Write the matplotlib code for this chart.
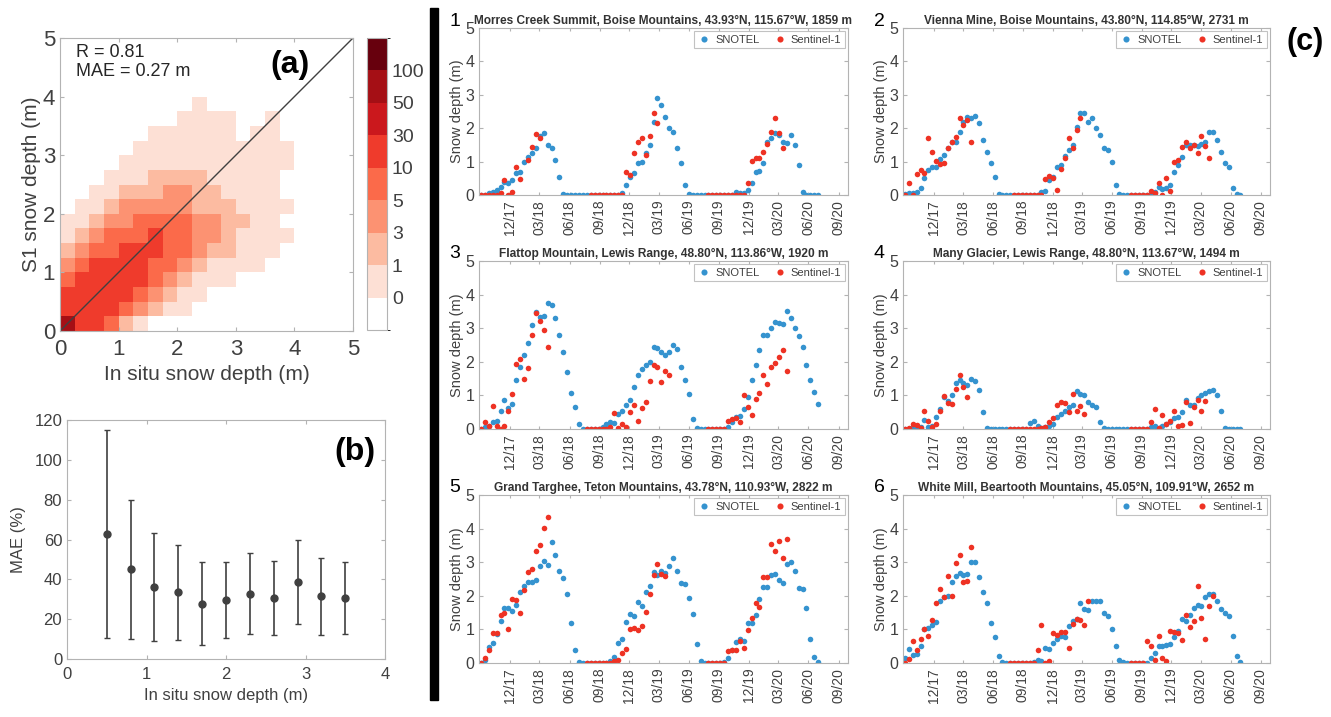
#!/usr/bin/env python3
# recria a figura: (a) densidade S1 x in situ, (b) MAE por classe, (c) series SNOTEL x Sentinel-1
import numpy as np
import pandas as pd
import matplotlib
matplotlib.use("Agg")
import matplotlib.pyplot as plt
from matplotlib.colors import ListedColormap, BoundaryNorm
from matplotlib.patches import Rectangle

plt.rcParams["font.family"] = ["Liberation Sans", "DejaVu Sans"]

N = None

# ---------------- (a) histograma 2d, classes de cor por celula de 0.25 m (linha de baixo primeiro)
dens_rows = [
    "75542100000000000000",
    "55554321100000000000",
    "55555432110000000000",
    "45555543211100000000",
    "34555544321111000000",
    "23445554432211100000",
    "12344454433211110000",
    "11233444433221100000",
    "01123333322211110000",
    "00112223322111100000",
    "00011122221111100000",
    "00001111111111110000",
    "00000111111111110000",
    "00000011111101100000",
    "00000000111100100000",
    "00000000010000000000",
    "00000000000000000000",
    "00000000000000000000",
    "00000000000000000000",
    "00000000000000000000",
]
class_counts = [np.nan, 0.5, 2, 4, 7, 20, 40, 75, 150]
cbar_bounds = [-1, 0, 1, 3, 5, 10, 30, 50, 100, 200]
cbar_ticks = [0, 1, 3, 5, 10, 30, 50, 100]
reds = ["#ffffff", "#fde0d5", "#fcbba1", "#fc9272", "#fb6a4a",
        "#ef3b2c", "#cb181d", "#a50f15", "#67000d"]
r_text = "R = 0.81"
mae_text = "MAE = 0.27 m"

# ---------------- (b) MAE (%) por faixa de profundidade
b_depth = [0.5, 0.8, 1.1, 1.4, 1.7, 2.0, 2.3, 2.6, 2.9, 3.2, 3.5]
b_mae = [62.7, 45.0, 36.3, 33.4, 27.8, 29.6, 32.8, 30.8, 38.8, 31.4, 30.8]
b_upper = [115.1, 79.9, 63.5, 57.0, 48.5, 48.8, 53.0, 49.3, 59.9, 50.7, 48.7]
b_lower = [10.5, 10.2, 8.9, 9.5, 6.9, 10.4, 12.4, 12.2, 17.7, 12.0, 12.7]

# ---------------- (c) series temporais, passo de 12 dias a partir de 2017-09-03
dates = pd.date_range("2017-09-03", periods=87, freq="12D")
titles = [
    "Morres Creek Summit, Boise Mountains, 43.93°N, 115.67°W, 1859 m",
    "Vienna Mine, Boise Mountains, 43.80°N, 114.85°W, 2731 m",
    "Flattop Mountain, Lewis Range, 48.80°N, 113.86°W, 1920 m",
    "Many Glacier, Lewis Range, 48.80°N, 113.67°W, 1494 m",
    "Grand Targhee, Teton Mountains, 43.78°N, 110.93°W, 2822 m",
    "White Mill, Beartooth Mountains, 45.05°N, 109.91°W, 2652 m",
]

snotel_1 = [0, 0, 0.05, 0.1, 0.15, 0.25, 0.4, 0.35, 0.45, 0.65,
            0.7, 1.0, 1.15, 1.25, 1.4, 1.78, 1.85, 1.5, 1.4, 1.05,
            0.55, 0.03, 0, 0, 0, 0, 0, 0, 0, 0,
            0, 0, 0, 0, 0, 0, 0.05, 0.3, 0.55, 0.65,
            0.95, 1.0, 1.25, 1.5, 2.2, 2.9, 2.7, 2.35, 2.0, 1.9,
            1.4, 0.95, 0.3, 0.02, 0, 0, 0, 0, 0, 0,
            0, 0, 0, 0, 0, 0.1, 0.07, 0.05, 0.15, 0.35,
            0.68, 0.72, 0.95, 1.6, 1.7, 1.85, 1.8, 1.6, 1.55, 1.8,
            1.5, 0.9, 0.1, 0, 0, 0, 0]
s1_1 = [0, 0, 0, 0, 0, 0.05, 0.45, 0, 0.08, 0.85,
        0.48, N, 1.05, 1.45, 1.83, 1.7, N, N, N, N,
        N, N, N, N, N, N, N, N, 0, 0,
        0, 0, 0, 0, 0, 0, 0, 0.7, 0.6, 1.25,
        1.58, 1.7, 1.2, 1.78, 2.45, 2.15, N, N, N, N,
        N, N, N, N, N, N, N, N, 0, 0,
        0, 0, 0, 0, 0, 0, 0, 0, 0.35, 1.02,
        1.12, 1.1, 1.28, 1.52, 1.9, 2.32, 1.85, 1.4, N, N,
        N, N, N, N, N, N, N]

snotel_2 = [0.02, 0.05, 0.05, 0.1, 0.2, 0.5, 0.75, 0.85, 0.85, 1.08,
            1.2, 1.42, 1.6, 1.6, 1.9, 2.2, 2.35, 2.3, 2.38, 2.15,
            1.65, 1.3, 0.97, 0.55, 0.03, 0, 0, 0, 0, 0,
            0, 0, 0, 0, 0, 0.1, 0.13, 0.45, 0.55, 0.85,
            0.9, 1.18, 1.35, 1.5, 2.05, 2.45, 2.45, 2.2, 2.32, 2.0,
            1.8, 1.4, 1.35, 1.0, 0.3, 0.02, 0, 0, 0, 0,
            0, 0, 0, 0.02, 0.08, 0.25, 0.18, 0.2, 0.3, 0.68,
            0.9, 1.15, 1.5, 1.5, 1.5, 1.48, 1.52, 1.6, 1.9, 1.9,
            1.65, 1.3, 0.95, 0.85, 0.2, 0.02, 0]
s1_2 = [0, 0.35, 0.0, 0.62, 0.75, 0.65, 1.72, 1.28, 1.02, 0.92,
        0.95, 1.42, 1.6, 1.75, 2.32, 2.1, 2.25, 1.6, N, N,
        N, N, N, N, N, N, N, N, 0, 0,
        0, 0, 0, 0, 0, 0, 0.48, 0.58, 0.52, 0.15,
        0.78, 1.1, 1.7, 1.4, 1.95, 2.3, N, N, N, N,
        N, N, N, N, N, N, N, N, 0, 0,
        0, 0, 0, 0.12, 0.05, 0.35, 0.0, 0.5, 0.12, 1.0,
        1.05, 1.45, 1.58, 1.4, 1.5, 1.25, 1.78, 1.48, 1.1, N,
        N, N, N, N, N, N, N]

snotel_3 = [0, 0.05, 0.1, 0.2, 0.25, 0.55, 0.85, 0.62, 0.75, 1.45,
            1.85, 2.2, 2.55, 3.1, 3.48, 3.32, 3.35, 3.75, 3.7, 3.3,
            2.8, 2.3, 1.7, 1.08, 0.65, 0.15, 0, 0, 0, 0,
            0, 0.05, 0.15, 0.2, 0.18, 0.45, 0.55, 0.7, 0.85, 1.25,
            1.6, 1.78, 1.9, 2.0, 2.45, 2.4, 2.3, 2.2, 2.3, 2.5,
            2.38, 1.85, 1.45, 1.05, 0.3, 0.02, 0, 0, 0, 0,
            0, 0, 0, 0.05, 0.22, 0.35, 0.4, 0.6, 0.95, 1.45,
            1.9, 2.35, 2.8, 2.8, 3.0, 3.18, 3.15, 3.12, 3.5, 3.3,
            3.02, 2.78, 2.45, 1.9, 1.45, 1.1, 0.75]
s1_3 = [0, 0.2, 0.1, 0.68, 0.08, 0.0, 0.08, 0.55, 1.05, 1.92,
        2.08, 1.5, 1.82, 2.8, 3.45, 3.2, 2.95, 2.45, N, N,
        N, N, N, N, N, N, N, 0, 0, 0,
        0, 0, 0, 0.05, 0.47, 0.02, 0.15, 0.05, 0.5, 0.72,
        0.25, 0.62, 0.8, 1.42, 1.9, 1.85, 1.4, 1.72, 1.62, N,
        N, N, N, N, N, N, N, N, 0, 0,
        0, 0, 0, 0.25, 0.3, 0.32, 0.22, 1.0, 0.65, 0.42,
        0.9, 1.08, 1.6, 1.35, 1.85, 1.95, 2.15, 2.35, 1.72, N,
        N, N, N, N, N, N, N]

snotel_4 = [0, 0, 0.05, 0.05, 0.05, 0.28, 0.05, 0.1, 0.35, 0.6,
            0.95, 0.82, 1.0, 1.38, 1.45, 1.38, 1.3, 1.5, 1.42, 1.15,
            0.5, 0.02, 0, 0, 0, 0, 0, 0, 0, 0,
            0, 0, 0.18, 0.25, 0.08, 0.02, 0.05, 0.1, 0.15, 0.35,
            0.45, 0.55, 0.65, 0.7, 1.12, 1.05, 1.0, 0.8, 0.72, 0.65,
            0.2, 0.02, 0, 0, 0, 0, 0, 0, 0, 0,
            0, 0, 0, 0.05, 0.08, 0.02, 0.08, 0.15, 0.22, 0.32,
            0.35, 0.5, 0.85, 0.72, 0.72, 0.92, 1.02, 1.08, 1.12, 1.15,
            1.0, 0.55, 0.02, 0, 0, 0, 0]
s1_4 = [0, 0.02, 0.15, 0.12, 0.02, 0.55, 0.25, 0.05, 0.15, 0.55,
        0.97, 0.78, 0.75, 1.2, 1.6, 1.25, 0.95, N, N, N,
        N, N, N, N, N, N, N, 0, 0, 0,
        0, 0, 0, 0, 0, 0.02, 0.05, 0.2, 0.32, 0.7,
        0.8, 0.78, 0.5, 1.05, 0.55, 0.68, 0.45, N, N, N,
        N, N, N, N, N, N, N, N, 0, 0,
        0, 0, 0, 0.2, 0.6, 0.02, 0.42, 0.15, 0.25, 0.55,
        0.08, 0.12, 0.8, 0.18, 0.65, 0.85, 0.55, 0.82, N, N,
        N, N, N, N, N, N, N]

snotel_5 = [0, 0.1, 0.48, 0.6, 0.85, 1.25, 1.65, 1.65, 1.55, 1.72,
            2.1, 2.3, 2.42, 2.42, 2.48, 2.88, 3.05, 2.92, 3.6, 3.22,
            2.75, 2.52, 2.05, 1.2, 0.38, 0.02, 0, 0, 0, 0,
            0, 0, 0, 0.05, 0.18, 0.6, 0.72, 1.22, 1.45, 1.4,
            1.82, 1.7, 2.12, 2.3, 2.7, 2.62, 2.75, 2.68, 2.9, 3.12,
            2.75, 2.38, 2.35, 1.92, 1.45, 0.58, 0.05, 0, 0, 0,
            0, 0, 0.02, 0.15, 0.38, 0.62, 0.7, 0.65, 1.18, 1.2,
            1.42, 1.9, 2.25, 2.25, 2.62, 2.65, 2.48, 2.38, 2.95, 3.02,
            2.75, 2.22, 2.2, 1.65, 0.7, 0.18, 0.02]
s1_5 = [0, 0.15, 0.38, 0.9, 0.88, 1.42, 1.5, 1.0, 1.9, 1.88,
        1.5, 2.18, 2.72, 2.8, 3.32, 3.5, 4.02, 4.35, N, N,
        N, N, N, N, N, N, N, 0, 0, 0,
        0, 0, 0, 0, 0.05, 0.1, 0.3, 0.42, 1.0, 1.05,
        0.98, 1.1, 1.52, 2.05, 2.62, 2.95, 2.65, 2.6, N, N,
        N, N, N, N, N, N, N, N, 0, 0,
        0, 0, 0, 0.35, 0.38, 0.4, 0.65, 0.45, 0.98, 1.35,
        1.78, 1.68, 2.55, 2.55, 3.55, 3.32, 3.62, 3.12, 3.7, N,
        N, N, N, N, N, N, N]

snotel_6 = [0.15, 0.42, 0.25, 0.28, 0.52, 1.0, 1.05, 1.12, 1.22, 1.85,
            1.95, 1.98, 2.4, 2.6, 2.68, 2.62, 2.65, 3.02, 3.02, 2.55,
            2.1, 1.8, 1.18, 0.78, 0.2, 0.02, 0, 0, 0, 0,
            0, 0, 0, 0.02, 0.08, 0.05, 0.45, 0.42, 0.6, 0.7,
            0.8, 0.78, 1.1, 1.25, 1.3, 1.78, 1.62, 1.58, 1.85, 1.85,
            1.85, 1.5, 1.4, 1.02, 0.5, 0.1, 0.02, 0, 0, 0,
            0, 0, 0, 0.15, 0.3, 0.5, 0.52, 0.55, 0.58, 0.78,
            0.95, 1.3, 1.25, 1.42, 1.65, 1.72, 1.7, 1.95, 2.05, 2.05,
            1.85, 1.62, 1.5, 1.4, 0.8, 0.2, 0.02]
s1_6 = [0, 0.12, 0.65, 0.38, 0.72, 1.02, 0.8, 1.28, 1.78, 2.2,
        1.95, 2.58, 1.98, 2.98, 3.2, 2.42, 2.45, 3.45, N, N,
        N, N, N, N, N, N, N, 0, 0, 0,
        0, 0, 0, 0, 0.4, 1.12, 0.0, 0.05, 0.88, 0.82,
        0.92, 0.92, 0.45, 1.15, 1.3, 1.28, 1.12, 1.85, N, N,
        N, N, N, N, N, N, N, N, 0, 0,
        0, 0, 0.65, 0.52, 0.1, 0.8, 0.15, 0.05, 0.95, 0.92,
        0.88, 0.68, 1.42, 1.08, 1.25, 2.28, 1.35, 0.72, 1.7, 2.0,
        N, N, N, N, N, N, N]

snotel_all = [snotel_1, snotel_2, snotel_3, snotel_4, snotel_5, snotel_6]
s1_all = [s1_1, s1_2, s1_3, s1_4, s1_5, s1_6]
tick_dates = pd.date_range("2017-12-01", "2020-09-01", freq="3MS")

BLUE = "#3593cf"
RED = "#ee3224"
SPINE = "#b3b3b3"
TXT = "#404040"

W, H = 1331, 717
fig = plt.figure(figsize=(W / 100, H / 100), dpi=100)


def box(l, t, r, b):
    # converte caixa em pixels para coordenadas da figura
    return [l / W, 1 - b / H, (r - l) / W, (b - t) / H]


def style(ax, size):
    for s in ax.spines.values():
        s.set_color(SPINE)
        s.set_linewidth(0.8)
    ax.tick_params(direction="in", top=True, right=True, colors=SPINE,
                   labelcolor=TXT, labelsize=size, length=3, width=0.8)


# ---- painel (a)
ax_a = fig.add_axes(box(60, 38, 353, 331))
grid = np.array([[class_counts[int(c)] for c in row] for row in dens_rows])
edges = np.linspace(0, 5, 21)
cmap = ListedColormap(reds)
norm = BoundaryNorm(cbar_bounds, cmap.N)
mesh = ax_a.pcolormesh(edges, edges, grid, cmap=cmap, norm=norm)
ax_a.plot([0, 5], [0, 5], color="#404040", lw=1.0)
ax_a.set_xlim(0, 5)
ax_a.set_ylim(0, 5)
ax_a.set_xticks(range(6))
ax_a.set_yticks(range(6))
style(ax_a, 16)
ax_a.tick_params(axis="x", pad=6)
ax_a.set_xlabel("In situ snow depth (m)", fontsize=15, color=TXT, labelpad=3)
ax_a.set_ylabel("S1 snow depth (m)", fontsize=15, color=TXT, labelpad=1)
ax_a.text(0.27, 4.75, r_text, fontsize=13, color="#262626", va="center")
ax_a.text(0.27, 4.42, mae_text, fontsize=13, color="#262626", va="center")
ax_a.text(3.92, 4.54, "(a)", fontsize=23, fontweight="bold", va="center", ha="center")

cax = fig.add_axes(box(367, 38, 387, 330))
cb = fig.colorbar(mesh, cax=cax, boundaries=cbar_bounds, spacing="uniform",
                  ticks=cbar_ticks)
cb.outline.set_edgecolor(SPINE)
cb.ax.tick_params(length=0, labelsize=14, labelcolor=TXT)
cb.ax.set_yticklabels([str(t) for t in cbar_ticks])

# ---- painel (b)
ax_b = fig.add_axes(box(67, 420, 385, 659))
yerr = [np.array(b_mae) - np.array(b_lower), np.array(b_upper) - np.array(b_mae)]
ax_b.errorbar(b_depth, b_mae, yerr=yerr, fmt="o", color="#404040", ms=5,
              elinewidth=1.2, capsize=2.5, capthick=1.0)
ax_b.set_xlim(0, 4)
ax_b.set_ylim(0, 120)
ax_b.set_xticks(range(5))
ax_b.set_yticks(range(0, 121, 20))
style(ax_b, 12)
ax_b.tick_params(axis="x", pad=6)
ax_b.set_xlabel("In situ snow depth (m)", fontsize=12, color=TXT, labelpad=4)
ax_b.set_ylabel("MAE (%)", fontsize=12, color=TXT, labelpad=6)
ax_b.text(3.62, 104, "(b)", fontsize=23, fontweight="bold", va="center", ha="center")

# ---- barra preta separadora
fig.patches.append(Rectangle((430 / W, 1 - 700 / H), 8 / W, 692 / H,
                             transform=fig.transFigure, color="black"))

# ---- paineis (c)
cols = [(479, 848), (903, 1270)]
rows = [(28, 195), (261, 429), (495, 663)]
for k in range(6):
    l, r = cols[k % 2]
    t, b = rows[k // 2]
    ax = fig.add_axes(box(l, t, r, b))
    sn = np.array(snotel_all[k], dtype=float)
    s1 = np.array([np.nan if v is None else v for v in s1_all[k]], dtype=float)
    ax.plot(dates, sn, "o", color=BLUE, ms=4.0, mew=0, label="SNOTEL")
    ax.plot(dates, s1, "o", color=RED, ms=4.0, mew=0, label="Sentinel-1")
    ax.set_xlim(pd.Timestamp("2017-08-28"), pd.Timestamp("2020-09-30"))
    ax.set_ylim(0, 5)
    ax.set_yticks(range(6))
    ax.set_xticks(tick_dates)
    ax.set_xticklabels([d.strftime("%m/%y") for d in tick_dates], rotation=90)
    style(ax, 11.5)
    ax.tick_params(axis="x", labelsize=10, length=2.5)
    ax.set_ylabel("Snow depth (m)", fontsize=10.5, color=TXT, labelpad=1)
    ax.set_title(titles[k], fontsize=8.6, fontweight="bold", color="#333333", pad=3)
    leg = ax.legend(loc="upper right", ncol=2, fontsize=8, frameon=True,
                    fancybox=False, borderaxespad=0.3, handletextpad=0.4,
                    columnspacing=1.2, borderpad=0.3, handlelength=1.2,
                    markerscale=1.1)
    leg.get_frame().set_edgecolor(SPINE)
    leg.get_frame().set_linewidth(0.8)
    for txt in leg.get_texts():
        txt.set_color(TXT)
    fig.text((l - 24) / W, 1 - 21 / H - (t - 28) / H, str(k + 1), fontsize=14,
             ha="center", va="center")

fig.text(1305 / W, 1 - 42 / H, "(c)", fontsize=22, fontweight="bold",
         ha="center", va="center")

fig.savefig("out.png", dpi=100)
